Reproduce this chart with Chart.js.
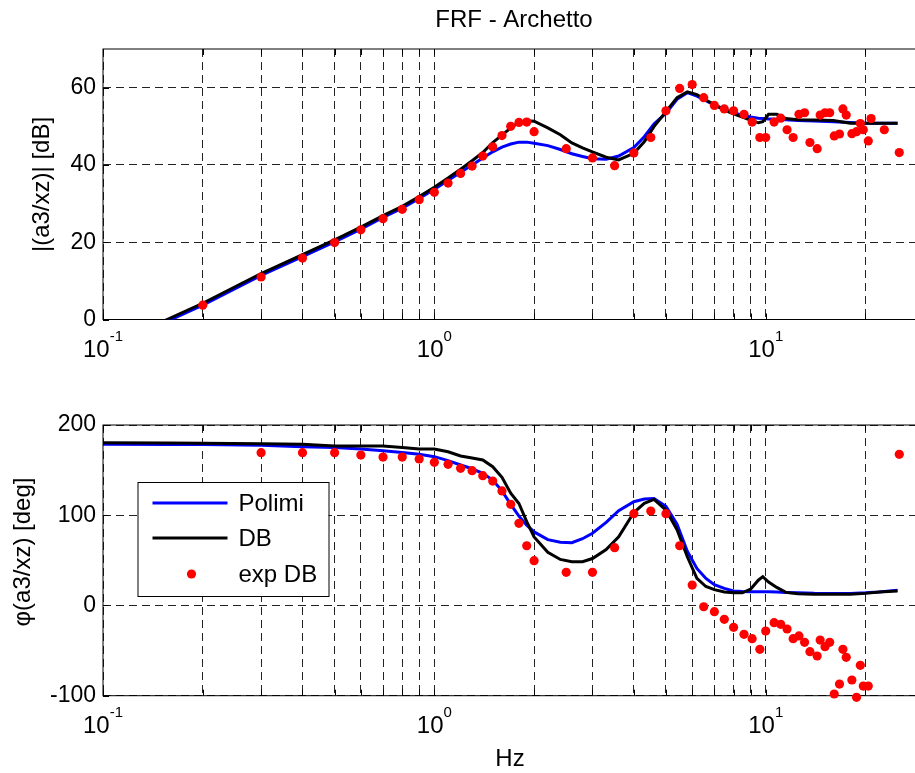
<!DOCTYPE html>
<html><head><meta charset="utf-8">
<script src="https://cdn.jsdelivr.net/npm/chart.js@4.4.1/dist/chart.umd.min.js"></script>
<style>
html,body{margin:0;padding:0;overflow:hidden;background:#fff;width:915px;height:773px;position:relative}
canvas{position:absolute;left:0}
#top{top:0}
#bot{top:380px}
</style></head><body>
<canvas id="top" width="930" height="380"></canvas>
<canvas id="bot" width="930" height="393"></canvas>
<script>
// ---------- data ----------
const freqModel = [0.1,0.156,0.2,0.3,0.4,0.5,0.6,0.7,0.8,0.9,1.0,1.1,1.2,1.3,1.4,1.5,1.6,1.7,1.8,1.9,2.0,2.2,2.4,2.6,2.8,3.0,3.3,3.6,4.0,4.3,4.6,5.0,5.4,5.8,6.2,6.6,7.0,7.5,8.0,8.5,9.0,9.5,9.8,10.2,10.8,11.5,12.5,14,16,18,20,22,25];
const magPolimi = [-8.6,-0.5,3.7,11.4,16.3,20.1,23.4,26.4,28.8,31.3,33.7,36.0,38.1,40.0,41.8,43.4,44.6,45.4,45.9,45.9,45.6,45.0,44.0,42.9,42.2,41.6,41.5,42.3,44.5,47.3,50.6,53.4,57.0,58.7,57.8,56.6,55.5,54.5,53.5,52.9,52.4,52.1,52.0,51.9,51.8,51.7,51.5,51.4,51.2,51.0,50.8,50.8,50.8];
const magDB = [-8.1,0,4.2,11.9,16.8,20.6,23.9,26.9,29.3,31.8,34.2,36.6,38.9,41.1,43.2,45.8,47.7,49.6,51.0,51.4,51.3,49.6,47.8,45.7,44.4,43.4,42.0,41.3,43.0,46.0,49.9,53.8,57.4,58.9,58.2,56.8,55.6,54.2,53.2,52.4,51.6,50.9,51.2,53.1,53.1,52.0,51.7,51.6,51.5,50.8,50.8,50.8,50.8];
const phasePolimi = [178.6,178.4,178.3,177.5,176.0,175.0,173.5,171.5,169.5,167.5,164.9,160.5,155.7,151.5,146.5,139,127,112,99,89,81.5,73,70,69.5,74,80,92,105,115,118,118.5,110,90,60,41,30,23,19,16,15.5,15.3,15.3,15.3,15.3,15,14.5,14,13.5,13.4,13.4,14,15,17];
const phaseDB = [180.4,180.0,179.7,179.2,178.6,176.7,176.7,176.7,175.0,173.4,173.4,170.4,165.6,163.5,161.2,153.8,142.0,124.5,113,93,76,59,51,48.5,48.5,52,62,76,103,113.2,117.5,105.8,84,54,30,21,17.5,15,14.1,14,18,28,31.9,26,20,14.5,13,12.5,12.5,12.5,13.4,15,16];

const freqExp = [0.2,0.3,0.4,0.5,0.6,0.7,0.8,0.9,1.0,1.1,1.2,1.3,1.4,1.5,1.6,1.7,1.8,1.9,2.0,2.5,3.0,3.5,4.0,4.5,5.0,5.5,6.0,6.5,7.0,7.5,8.0,8.6,9.1,9.6,10.0,10.6,11.1,11.6,12.1,12.6,13.1,13.6,14.3,14.6,15.1,15.6,16.1,16.7,17.1,17.5,18.2,18.8,19.3,19.7,20.4,20.8,22.8,25.3];
const magExp = [3.7,11.0,15.9,19.9,23.2,26.1,28.5,31.0,32.9,35.3,37.8,39.7,42.3,44.7,47.6,50.0,51.0,51.1,48.6,44.2,41.8,39.8,43.1,47.1,54.0,59.8,60.8,57.4,55.4,54.5,54.0,53.1,51.1,47.1,47.1,51.1,52.1,49.1,47.1,53.1,53.5,45.8,44.2,52.9,53.5,53.5,47.5,48.0,54.5,52.9,48.1,48.6,50.7,49.1,46.2,52.0,49.1,43.2];
const phaseExp = [null,169.3,169.3,169.3,166.7,164.5,164.5,162.3,158.6,156.4,152.0,149.4,143.8,137.9,126.9,112.1,91.0,66.2,49.6,36.7,36.7,64.0,101.7,104.7,101.7,66.2,22.6,-1.4,-6.9,-15.4,-24.2,-32.0,-36.8,-48.6,-28.3,-19.1,-20.9,-26.1,-36.8,-33.8,-40.8,-51.2,-56.0,-38.3,-45.7,-40.8,-98.1,-87.1,-48.6,-57.5,-82.6,-101.8,-66.3,-89.3,-89.3,null,null,167.5];

const xTickValues = [0.1,0.2,0.3,0.4,0.5,0.6,0.7,0.8,0.9,1,2,3,4,5,6,7,8,9,10,20,30];
const xLabelValues = [0.1,1,10];
const xLabelExponents = ['-1','0','1'];
const magTicks = [0,20,40,60];
const phaseTicks = [-100,0,100,200];
const seriesNames = ['Polimi','DB','exp DB'];

// ---------- helpers ----------
const FONT = '"Liberation Sans", Arial, Helvetica, sans-serif';
const pts = (xs, ys) => xs.map((x, i) => ({x: x, y: ys[i]}));

function datasets(modelA, modelB, exp) {
  return [
    {label: seriesNames[0], data: pts(freqModel, modelA), showLine: true, borderColor: '#0000ff', borderWidth: 3, pointRadius: 0, order: 2},
    {label: seriesNames[1], data: pts(freqModel, modelB), showLine: true, borderColor: '#000000', borderWidth: 3, pointRadius: 0, order: 1},
    {label: seriesNames[2], data: pts(freqExp, exp), showLine: false, backgroundColor: '#ff0000', borderWidth: 0, pointRadius: 4.6, order: 0, clip: false}
  ];
}

const framePlugin = {
  id: 'frame',
  beforeDatasetsDraw(chart) {
    const {ctx, chartArea: a, scales} = chart;
    ctx.save();
    ctx.strokeStyle = '#000';
    ctx.lineWidth = 1;
    ctx.setLineDash([]);
    ctx.strokeRect(a.left, a.top, a.right - a.left, a.bottom - a.top);
    ctx.beginPath();
    const tl = 6;
    xTickValues.forEach(v => {
      const x = Math.round(scales.x.getPixelForValue(v)) + 0.5;
      ctx.moveTo(x, a.bottom); ctx.lineTo(x, a.bottom - tl);
      ctx.moveTo(x, a.top); ctx.lineTo(x, a.top + tl);
    });
    scales.y.ticks.forEach(t => {
      const y = Math.round(scales.y.getPixelForValue(t.value)) + 0.5;
      ctx.moveTo(a.left, y); ctx.lineTo(a.left + tl, y);
      ctx.moveTo(a.right, y); ctx.lineTo(a.right - tl, y);
    });
    ctx.stroke();
    ctx.restore();
  },
  afterDraw(chart) {
    const {ctx, chartArea: a, scales} = chart;
    const o = chart.options.plugins.frame;
    ctx.save();
    ctx.fillStyle = '#000';
    // x tick labels 10^n
    xLabelValues.forEach((v, i) => {
      const x = scales.x.getPixelForValue(v);
      ctx.font = '24px ' + FONT;
      const wb = ctx.measureText('10').width;
      ctx.font = '15px ' + FONT;
      const we = ctx.measureText(xLabelExponents[i]).width;
      const x0 = x - (wb + we) / 2;
      const base = a.bottom + 37.5;
      ctx.textAlign = 'left';
      ctx.textBaseline = 'alphabetic';
      ctx.font = '24px ' + FONT;
      ctx.fillText('10', x0, base);
      ctx.font = '15px ' + FONT;
      ctx.fillText(xLabelExponents[i], x0 + wb, base - 16.5);
    });
    // y axis title
    ctx.font = '24px ' + FONT;
    ctx.textAlign = 'center';
    ctx.textBaseline = 'middle';
    ctx.save();
    ctx.translate(o.yTitleX, o.yTitleY);
    ctx.rotate(-Math.PI / 2);
    ctx.fillText(o.yTitle, 0, 0);
    ctx.restore();
    if (o.title) {
      ctx.textBaseline = 'alphabetic';
      ctx.fillText(o.title, o.titleX, o.titleY);
    }
    if (o.xTitle) {
      ctx.textBaseline = 'alphabetic';
      ctx.fillText(o.xTitle, o.xTitleX, o.xTitleY);
    }
    ctx.restore();
  },
  afterDatasetsDraw(chart) {
    const o = chart.options.plugins.frame;
    if (!o.legend) return;
    const ctx = chart.ctx;
    const L = o.legend;
    ctx.save();
    ctx.fillStyle = '#fff';
    ctx.fillRect(L.x, L.y, L.w, L.h);
    ctx.strokeStyle = '#000';
    ctx.lineWidth = 1;
    ctx.strokeRect(L.x + 0.5, L.y + 0.5, L.w, L.h);
    chart.data.datasets.forEach((ds, i) => {
      const cy = L.y + L.rows[i];
      if (ds.showLine) {
        ctx.strokeStyle = ds.borderColor;
        ctx.lineWidth = ds.borderWidth;
        ctx.beginPath();
        ctx.moveTo(L.x + 15, cy);
        ctx.lineTo(L.x + 90, cy);
        ctx.stroke();
      } else {
        ctx.fillStyle = ds.backgroundColor;
        ctx.beginPath();
        ctx.arc(L.x + 54, cy, ds.pointRadius, 0, Math.PI * 2);
        ctx.fill();
      }
      ctx.fillStyle = '#000';
      ctx.font = '24px ' + FONT;
      ctx.textAlign = 'left';
      ctx.textBaseline = 'middle';
      ctx.fillText(ds.label, L.x + 101, cy + 1);
    });
    ctx.restore();
  }
};

function makeOptions(yMin, yMax, yTicks, pad, xAxisH, frameOpts) {
  return {
    responsive: false,
    animation: false,
    events: [],
    layout: {padding: pad},
    plugins: {legend: {display: false}, tooltip: {enabled: false}, title: {display: false}, frame: frameOpts},
    scales: {
      x: {
        type: 'logarithmic', min: 0.1, max: 30,
        afterBuildTicks: s => { s.ticks = xTickValues.map(v => ({value: v})); },
        afterFit: s => { s.height = xAxisH; },
        ticks: {display: false},
        grid: {color: '#222', lineWidth: 1, drawTicks: false},
        border: {display: false, dash: [8, 5]}
      },
      y: {
        type: 'linear', min: yMin, max: yMax,
        afterBuildTicks: s => { s.ticks = yTicks.map(v => ({value: v})); },
        afterFit: s => { s.width = 103; },
        ticks: {color: '#000', padding: 7, font: {family: FONT, size: 23}},
        grid: {color: '#222', lineWidth: 1, drawTicks: false},
        border: {display: false, dash: [8, 5]}
      }
    }
  };
}

new Chart(document.getElementById('top'), {
  type: 'scatter',
  data: {datasets: datasets(magPolimi, magDB, magExp)},
  options: makeOptions(0, 70, magTicks, {top: 49, left: 0, right: 6.2, bottom: 0}, 60.5, {
    yTitle: '|(a3/xz)| [dB]', yTitleX: 42, yTitleY: 184.5,
    title: 'FRF - Archetto', titleX: 514, titleY: 27
  }),
  plugins: [framePlugin]
});

new Chart(document.getElementById('bot'), {
  type: 'scatter',
  data: {datasets: datasets(phasePolimi, phaseDB, phaseExp)},
  options: makeOptions(-100, 200, phaseTicks, {top: 45, left: 0, right: 6.2, bottom: 0}, 77.3, {
    yTitle: '\u03c6(a3/xz) [deg]', yTitleX: 23, yTitleY: 172,
    xTitle: 'Hz', xTitleX: 510, xTitleY: 386,
    legend: {x: 137.5, y: 102, w: 191, h: 114, rows: [21, 56, 92]}
  }),
  plugins: [framePlugin]
});
</script>
</body></html>
